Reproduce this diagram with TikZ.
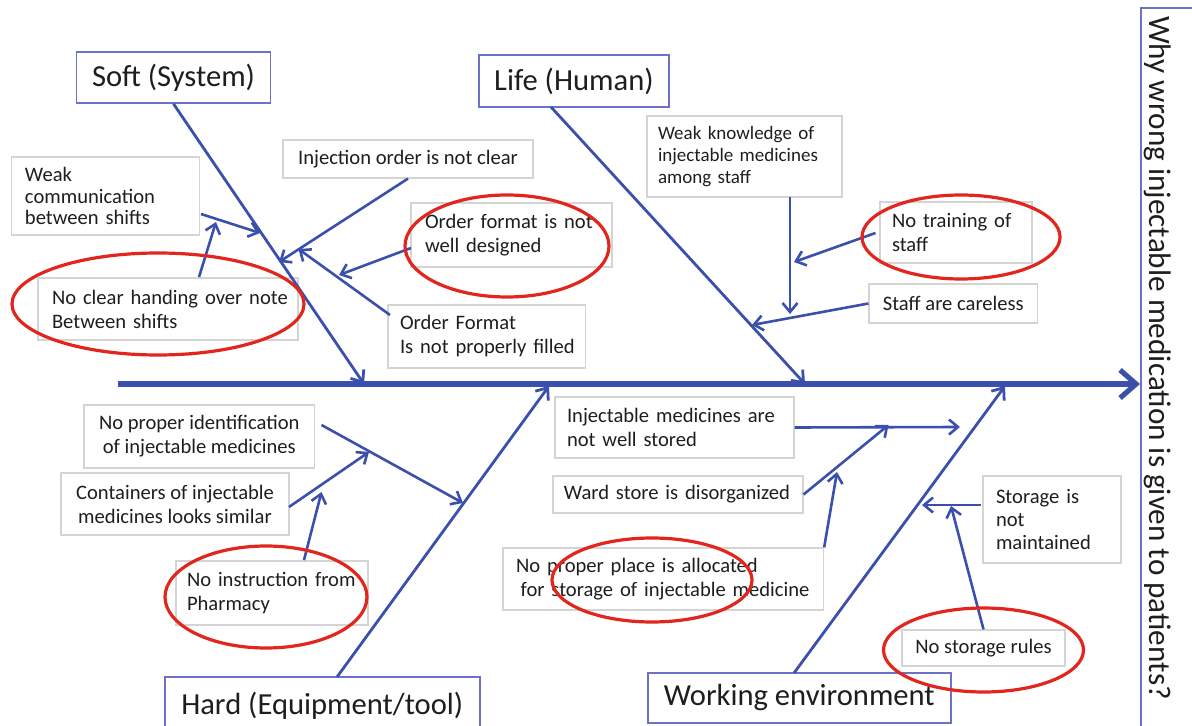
\documentclass[tikz,border=0pt]{standalone}
\usepackage{fontspec}
\setmainfont{Carlito}
\usetikzlibrary{arrows.meta}

\definecolor{boneblue}{RGB}{58,80,172}
\definecolor{catblue}{RGB}{108,114,200}
\definecolor{ringred}{RGB}{226,38,30}
\definecolor{boxgray}{RGB}{212,212,212}
\definecolor{inkgray}{RGB}{30,30,30}

\tikzset{
    cat/.style = {draw = catblue, line width = 0.9pt, text = inkgray, inner sep = 0pt,
        font = \fontsize{15.3}{18}\selectfont},
    cause/.style = {draw = boxgray, line width = 0.6pt, text = inkgray, align = left,
        inner ysep = 0pt, font = \fontsize{10.3}{12}\selectfont},
    spine/.style = {draw = boneblue, line width = 2.6pt, -{Straight Barb[length = 8pt, width = 14pt]}},
    bone/.style = {draw = boneblue, line width = 1.4pt, -{Straight Barb[length = 5pt, width = 8pt]}},
    twig/.style = {draw = boneblue, line width = 1.3pt, -{Straight Barb[length = 4.5pt, width = 7.5pt]}},
    ring/.style = {draw = ringred, line width = 1.6pt}
}

\begin{document}
\begin{tikzpicture}[x = 0.5pt, y = -0.5pt]
    \useasboundingbox ( 0, 0 ) rectangle ( 1192, 726 );
    \clip ( 0, 0 ) rectangle ( 1192, 726 );

    % категории
    \node [cat, minimum width = 97pt, minimum height = 25.5pt] (soft) at ( 173.5, 77.5 ) {Soft (System)};
    \node [cat, minimum width = 95.2pt, minimum height = 26pt] (life) at ( 573.9, 81 ) {Life (Human)};
    \node [cat, minimum width = 157.7pt, minimum height = 29pt] (hard) at ( 322.3, 706 ) {Hard (Equipment/tool)};
    \node [cat, minimum width = 151.7pt, minimum height = 25pt] (work) at ( 799.3, 698 ) {Working environment};

    % следствие
    \draw [draw = catblue, line width = 0.9pt] ( 1141, 8 ) rectangle ( 1230, 760 );
    \node [cat, draw = none, rotate = -90, font = \fontsize{15.6}{18}\selectfont] (effect) at ( 1158, 358 ) {Why wrong injectable medication is given to patients?};

    % причины: soft
    \node [cause, text width = 80.3pt, inner xsep = 6.75pt, minimum height = 39pt,
        font = \fontsize{10.3}{10.8}\selectfont] (wcomm) at ( 105.3, 196 ) {Weak\\communication\\between shifts};
    \node [cause, text width = 116pt, inner xsep = 7pt, minimum height = 31pt] (handover) at ( 168, 309 ) {\mbox{No clear handing over note}\\Between shifts};
    \node [cause, align = center, minimum width = 125pt, minimum height = 19pt] (inject) at ( 408, 159 ) {Injection order is not clear};
    \node [cause, text width = 86.5pt, inner xsep = 7pt, minimum height = 32pt] (design) at ( 511.5, 235 ) {\mbox{Order format is not}\\well designed};
    \node [cause, text width = 86.75pt, inner xsep = 6pt, minimum height = 31.5pt] (filled) at ( 486.8, 336.5 ) {Order Format\\\mbox{Is not properly filled}};

    % причины: life
    \node [cause, text width = 86.5pt, inner xsep = 5.5pt, minimum height = 40.5pt,
        font = \fontsize{9.5}{11}\selectfont] (know) at ( 744.5, 156.5 ) {Weak knowledge of\\injectable medicines\\among staff};
    \node [cause, text width = 64pt, inner xsep = 6pt, minimum height = 30.5pt] (train) at ( 956, 232.5 ) {No training of\\staff};
    \node [cause, align = center, minimum width = 84.3pt, minimum height = 19.5pt] (careless) at ( 953.3, 303.5 ) {Staff are careless};

    % причины: hard
    \node [cause, align = center, minimum width = 115.3pt, minimum height = 31.5pt] (ident) at ( 199.3, 436.5 ) {No proper identification\\of injectable medicines};
    \node [cause, align = center, minimum width = 114pt, minimum height = 31pt] (similar) at ( 175, 504 ) {Containers of injectable\\medicines looks similar};
    \node [cause, text width = 85pt, inner xsep = 5.5pt, minimum height = 32pt] (pharm) at ( 272, 593 ) {\mbox{No instruction from}\\Pharmacy};

    % причины: working environment
    \node [cause, text width = 107.5pt, inner xsep = 6pt, minimum height = 30.5pt] (stored) at ( 674.5, 427.5 ) {Injectable medicines are\\not well stored};
    \node [cause, text width = 114pt, inner xsep = 5.5pt, minimum height = 18.5pt] (ward) at ( 677.9, 494.5 ) {\mbox{Ward store is disorganized}};
    \node [cause, text width = 147.25pt, inner xsep = 6.5pt, minimum height = 31pt] (place) at ( 663.3, 579 ) {No proper place is allocated\\\hspace*{2.3pt}\mbox{for storage of injectable medicine}};
    \node [cause, text width = 56pt, inner xsep = 6.5pt, minimum height = 43.5pt,
        font = \fontsize{10.3}{11.5}\selectfont] (maint) at ( 1052, 519.5 ) {Storage is\\not\\maintained};
    \node [cause, align = center, minimum width = 81.5pt, minimum height = 18pt] (rules) at ( 983.5, 648 ) {No storage rules};

    % точки костей
    \coordinate (spineA) at ( 118, 384 );
    \coordinate (spineB) at ( 1140, 384 );
    \coordinate (softTip) at ( 364, 384 );
    \coordinate (lifeTop) at ( 551, 107 );
    \coordinate (lifeTip) at ( 805, 384 );
    \coordinate (hardTop) at ( 337, 677 );
    \coordinate (hardTip) at ( 549, 386 );
    \coordinate (workTop) at ( 794, 673 );
    \coordinate (workTip) at ( 1005, 386 );

    % точки ветвей
    \coordinate (wcommOut) at ( 201, 214 );   \coordinate (wcommTip) at ( 260, 233 );
    \coordinate (handOut) at ( 199, 277 );    \coordinate (handTip) at ( 216, 222 );
    \coordinate (injectTip) at ( 279, 262 );
    \coordinate (designOut) at ( 411, 248 );  \coordinate (designTip) at ( 339, 275 );
    \coordinate (filledOut) at ( 390, 315 );  \coordinate (filledTip) at ( 298.5, 249 );
    \coordinate (knowOut) at ( 790, 197 );    \coordinate (knowTip) at ( 790, 314 );
    \coordinate (trainOut) at ( 875.5, 233 ); \coordinate (trainTip) at ( 794, 262 );
    \coordinate (carelessTip) at ( 752, 325 );
    \coordinate (identOut) at ( 321.5, 425 ); \coordinate (identTip) at ( 463, 503 );
    \coordinate (similarOut) at ( 289, 507 ); \coordinate (similarTip) at ( 369, 452 );
    \coordinate (pharmOut) at ( 304, 560 );   \coordinate (pharmTip) at ( 321.5, 492 );
    \coordinate (storedTip) at ( 960, 427 );
    \coordinate (wardTip) at ( 888.5, 425 );
    \coordinate (placeTip) at ( 837, 472 );
    \coordinate (maintOut) at ( 981, 505 );   \coordinate (maintTip) at ( 922, 505 );
    \coordinate (rulesTip) at ( 951, 506 );

    % хребет и кости
    \draw [spine] (spineA) -- (spineB);
    \draw [bone] (soft.south) -- (softTip);
    \draw [bone] (lifeTop) -- (lifeTip);
    \draw [bone] (hardTop) -- (hardTip);
    \draw [bone] (workTop) -- (workTip);

    % ветви
    \draw [twig] (wcommOut) -- (wcommTip);
    \draw [twig] (handOut) -- (handTip);
    \draw [twig] (inject.south) -- (injectTip);
    \draw [twig] (designOut) -- (designTip);
    \draw [twig] (filledOut) -- (filledTip);
    \draw [twig] (knowOut) -- (knowTip);
    \draw [twig] (trainOut) -- (trainTip);
    \draw [twig] (careless.west) -- (carelessTip);
    \draw [twig] (identOut) -- (identTip);
    \draw [twig] (similarOut) -- (similarTip);
    \draw [twig] (pharmOut) -- (pharmTip);
    \draw [twig] (stored.east) -- (storedTip);
    \draw [twig] (ward.east) -- (wardTip);
    \draw [twig] (place.north east) -- (placeTip);
    \draw [twig] (maintOut) -- (maintTip);
    \draw [twig] (rules.north) -- (rulesTip);

    % красные овалы
    \draw [ring] ( 158, 304 ) ellipse [x radius = 73pt, y radius = 25.5pt];
    \draw [ring] ( 507, 246 ) ellipse [x radius = 51pt, y radius = 25.5pt];
    \draw [ring] ( 961, 237 ) ellipse [x radius = 49.5pt, y radius = 21pt];
    \draw [ring] ( 266, 597 ) ellipse [x radius = 50.5pt, y radius = 25.5pt];
    \draw [ring] ( 652, 580 ) ellipse [x radius = 50pt, y radius = 21pt];
    \draw [ring] ( 983.5, 650 ) ellipse [x radius = 50pt, y radius = 21pt];
\end{tikzpicture}
\end{document}
